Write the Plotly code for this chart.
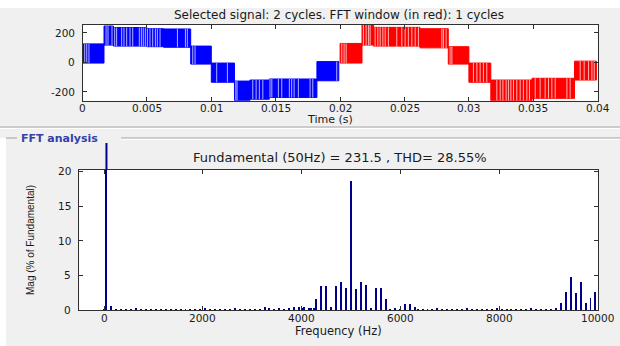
import plotly.graph_objects as go

W, H = 620, 346

# ---------------- time-domain signal: PWM blocks (start, end, low level, high level)
seg_start = [0.0, 0.00167, 0.0024, 0.0050, 0.0063, 0.0084, 0.0100, 0.0118, 0.0130, 0.0145, 0.0182,
             0.0200, 0.0217, 0.0226, 0.0262, 0.0284, 0.0300, 0.0317, 0.0349, 0.0382]
seg_end = [0.00167, 0.0024, 0.0050, 0.0063, 0.0084, 0.0100, 0.0118, 0.0130, 0.0145, 0.0182, 0.0199,
           0.0217, 0.0226, 0.0262, 0.0284, 0.0300, 0.0317, 0.0349, 0.0382, 0.0399]
seg_low = [-5, 117, 110, 106, 102, -12, -135, -258, -250, -238, -125,
           -5, 117, 110, 98, -12, -135, -260, -244, -120]
seg_high = [125, 246, 236, 228, 226, 110, -5, -127, -120, -113, 5,
            128, 253, 237, 228, 106, -5, -120, -108, 8]
fft_window = [0.02, 0.04]

# light switching stripes visible inside the blocks (s)
stripe_t = [0.00017, 0.00033, 0.0005,
            0.00183, 0.00198, 0.00229, 0.0025, 0.00265, 0.00304, 0.00322, 0.00343, 0.00369, 0.0039,
            0.00441, 0.00457, 0.00472, 0.00488, 0.00504, 0.00524, 0.00545, 0.00566, 0.00581, 0.00602,
            0.00737, 0.00799, 0.00814, 0.00856, 0.00874, 0.01042, 0.01125, 0.0119, 0.0120,
            0.01322, 0.01348, 0.01373, 0.014, 0.01456, 0.0147, 0.01521, 0.01547, 0.01606, 0.01624,
            0.01643, 0.01676, 0.01767, 0.01788, 0.01974,
            0.02013, 0.02031, 0.02047, 0.02181, 0.02202, 0.0222, 0.02233, 0.02272, 0.02293, 0.02311,
            0.02332, 0.0235, 0.02375, 0.0244, 0.02479, 0.02505, 0.0253, 0.02557, 0.02583, 0.02608,
            0.0279, 0.02802, 0.02823, 0.02854, 0.02868, 0.03035, 0.03062, 0.03087, 0.03113, 0.03139,
            0.03217, 0.03243, 0.03264, 0.03289, 0.03307, 0.03326, 0.03346, 0.03372, 0.03398, 0.03423,
            0.0345, 0.0347, 0.03515, 0.03553, 0.03592, 0.03618, 0.03644, 0.0367, 0.03761, 0.03786,
            0.03864, 0.03895, 0.03929, 0.03955, 0.03973]

time_ticks = [0, 0.005, 0.01, 0.015, 0.02, 0.025, 0.03, 0.035, 0.04]
time_labels = ["0", "0.005", "0.01", "0.015", "0.02", "0.025", "0.03", "0.035", "0.04"]
sig_ticks = [-200, 0, 200]
sig_labels = ["-200", "0", "200"]

# ---------------- FFT spectrum (% of fundamental)
harm_freq = [0, 50, 150, 250, 350, 450, 550, 650, 750, 850, 950, 1050, 1150, 1250, 1350, 1450,
             1550, 1650, 1750, 1850, 1950, 2050, 2150, 2250, 2350, 2450, 2550, 2650, 2750, 2850,
             2950, 3050, 3150, 3250, 3350, 3450, 3550, 3650, 3750, 3850, 3950, 4000, 4050, 4150,
             4200, 4250,
             4300, 4400, 4500, 4600, 4700, 4800, 4900, 5000, 5100, 5200, 5300, 5400, 5500, 5600,
             5700, 5800, 5900, 6000, 6100, 6200, 6300,
             6350, 6450, 6550, 6650, 6750, 6850, 6950, 7050, 7150, 7250, 7350, 7450, 7550, 7650,
             7750, 7850, 7950, 8050, 8150, 8250, 8350, 8450, 8550, 8650, 8750, 8850, 8950, 9050,
             9150, 9250, 9350, 9450, 9550, 9650, 9750, 9850, 9950]
harm_mag = [0.15, 100, 0.6, 0.2, 0.15, 0.2, 0.15, 0.3, 0.15, 0.1, 0.15, 0.2, 0.2, 0.2, 0.15, 0.2,
            0.1, 0.15, 0.2, 0.2, 0.15, 0.25, 0.2, 0.15, 0.2, 0.2, 0.15, 0.25, 0.2, 0.1,
            0.1, 0.1, 0.15, 0.5, 0.3, 0.2, 0.3, 0.15, 0.25, 0.5, 0.4, 0.3, 0.4, 0.3,
            0.3, 0.3,
            1.6, 3.4, 3.4, 0.4, 3.5, 4.1, 3.2, 18.6, 3.05, 4.1, 3.6, 0.3, 3.2, 3.2,
            1.6, 0.2, 0.3, 0.2, 0.8, 0.8, 0.5,
            0.2, 0.15, 0.2, 0.2, 0.25, 0.15, 0.2, 0.2, 0.15, 0.2, 0.25, 0.2, 0.15, 0.2,
            0.15, 0.2, 0.25, 0.15, 0.2, 0.15, 0.2, 0.15, 0.2, 0.25, 0.2, 0.15, 0.2, 0.15,
            0.25, 1.0, 2.6, 4.8, 2.4, 4.0, 1.0, 1.8, 2.6]
freq_ticks = [0, 2000, 4000, 6000, 8000, 10000]
freq_labels = ["0", "2000", "4000", "6000", "8000", "10000"]
mag_ticks = [0, 5, 10, 15, 20]
mag_labels = ["0", "5", "10", "15", "20"]

fundamental_hz = 50
fundamental_amp = 231.5
thd = 28.55

# ---------------- layout helpers
def px_x(x):
    return x / W

def px_y(y):
    return 1 - y / H

BLUE = "#0000ff"
RED = "#ff0000"
BAR = "#00008c"
FONT = "DejaVu Sans"
TXT = "#1a1a1a"

fig = go.Figure()

# signal blocks
for color, in_window in [(BLUE, False), (RED, True)]:
    xs, ys = [], []
    for t0, t1, lo, hi in zip(seg_start, seg_end, seg_low, seg_high):
        if (t0 >= fft_window[0]) != in_window:
            continue
        xs += [t0, t1, t1, t0, t0, None]
        ys += [lo, lo, hi, hi, lo, None]
    fig.add_trace(go.Scatter(x=xs, y=ys, mode="lines", fill="toself", fillcolor=color,
                             line=dict(color=color, width=1), xaxis="x", yaxis="y",
                             hoverinfo="skip", showlegend=False))

# stripes
for tint, in_window in [("rgba(235,235,255,0.75)", False), ("rgba(255,225,225,0.8)", True)]:
    xs, ys = [], []
    for t in stripe_t:
        if (t >= fft_window[0]) != in_window:
            continue
        for t0, t1, lo, hi in zip(seg_start, seg_end, seg_low, seg_high):
            if t0 <= t <= t1:
                xs += [t, t, None]
                ys += [lo, hi, None]
                break
    fig.add_trace(go.Scatter(x=xs, y=ys, mode="lines", line=dict(color=tint, width=1),
                             xaxis="x", yaxis="y", hoverinfo="skip", showlegend=False))

# spectrum
fig.add_trace(go.Bar(x=harm_freq, y=harm_mag, width=40, marker=dict(color=BAR, line=dict(width=0)),
                     xaxis="x2", yaxis="y2", showlegend=False, hoverinfo="skip"))

top_dom_x = [px_x(82.5), px_x(597.7)]
top_dom_y = [px_y(100.7), px_y(25)]
bot_dom_x = [px_x(79.3), px_x(597.9)]
bot_dom_y = [px_y(310), px_y(170)]

axis_common = dict(showline=True, mirror="ticks", linecolor="#303030", linewidth=1,
                   ticks="inside", ticklen=4, tickcolor="#303030", showgrid=False, zeroline=False,
                   fixedrange=True, showticklabels=False)

fig.update_layout(
    width=W, height=H, autosize=False, margin=dict(l=0, r=0, t=0, b=0),
    paper_bgcolor="#f0f0f0", plot_bgcolor="white", bargap=0, dragmode=False,
    xaxis=dict(domain=top_dom_x, range=[0, 0.04], tickvals=time_ticks, anchor="y", **axis_common),
    yaxis=dict(domain=top_dom_y, range=[-260, 253], tickvals=sig_ticks, anchor="x", **axis_common),
    xaxis2=dict(domain=bot_dom_x, range=[-500, 10000], tickvals=freq_ticks, anchor="y2", **axis_common),
    yaxis2=dict(domain=bot_dom_y, range=[0, 20.2], tickvals=mag_ticks, anchor="x2", **axis_common),
)

shapes = [
    dict(type="rect", xref="paper", yref="paper", x0=0, x1=1, y0=px_y(8), y1=1,
         fillcolor="white", line=dict(width=0), layer="below"),
    dict(type="line", xref="paper", yref="paper", x0=0, x1=1, y0=px_y(127), y1=px_y(127),
         line=dict(color="#a8a8a8", width=1)),
    dict(type="line", xref="paper", yref="paper", x0=0, x1=1, y0=px_y(128.5), y1=px_y(128.5),
         line=dict(color="#ffffff", width=1)),
    dict(type="rect", xref="paper", yref="paper", x0=0, x1=px_x(6), y0=0, y1=px_y(138),
         fillcolor="white", line=dict(width=0), layer="below"),
    dict(type="line", xref="paper", yref="paper", x0=px_x(6), x1=px_x(17), y0=px_y(138), y1=px_y(138),
         line=dict(color="#a0a0a0", width=1)),
    dict(type="line", xref="paper", yref="paper", x0=px_x(121), x1=1, y0=px_y(138), y1=px_y(138),
         line=dict(color="#a0a0a0", width=1)),
    dict(type="line", xref="paper", yref="paper", x0=px_x(121), x1=1, y0=px_y(139.3), y1=px_y(139.3),
         line=dict(color="#ffffff", width=1)),
    dict(type="line", xref="x2", yref="paper", x0=fundamental_hz, x1=fundamental_hz,
         y0=bot_dom_y[1], y1=px_y(143), line=dict(color=BAR, width=2)),
]
fig.update_layout(shapes=shapes)

tick_font = dict(family=FONT, size=10.5, color=TXT)
ann = []
for v, s in zip(time_ticks, time_labels):
    ann.append(dict(text=s, x=v, xref="x", y=px_y(108), yref="paper", xanchor="center",
                    yanchor="middle", font=tick_font))
for v, s in zip(freq_ticks, freq_labels):
    ann.append(dict(text=s, x=v, xref="x2", y=px_y(317.5), yref="paper", xanchor="center",
                    yanchor="middle", font=tick_font))
for v, s in zip(sig_ticks, sig_labels):
    ann.append(dict(text=s, x=px_x(77), xref="paper", y=v, yref="y", xanchor="right",
                    yanchor="middle", font=tick_font))
for v, s in zip(mag_ticks, mag_labels):
    ann.append(dict(text=s, x=px_x(73), xref="paper", y=v, yref="y2", xanchor="right",
                    yanchor="middle", font=tick_font))

ann += [
    dict(text="Selected signal: 2 cycles. FFT window (in red): 1 cycles", x=px_x(339), y=px_y(15),
         font=dict(family=FONT, size=12, color=TXT)),
    dict(text="Time (s)", x=px_x(330), y=px_y(119.5), font=dict(family=FONT, size=11, color=TXT)),
    dict(text="FFT analysis", x=px_x(19), y=px_y(138), xanchor="left",
         font=dict(family=FONT, size=11, color="#3342a8", weight="bold"), bgcolor="#f0f0f0"),
    dict(text=f"Fundamental ({fundamental_hz}Hz) = {fundamental_amp} , THD= {thd}%",
         x=px_x(340), y=px_y(158), font=dict(family=FONT, size=13, color=TXT)),
    dict(text="Mag (% of Fundamental)", x=px_x(30), y=px_y(240), textangle=-90,
         font=dict(family="Liberation Sans", size=10, color=TXT)),
    dict(text="Frequency (Hz)", x=px_x(338), y=px_y(331), font=dict(family=FONT, size=11.5, color=TXT)),
]
for a in ann:
    a.setdefault("xanchor", "center")
    a.setdefault("xref", "paper")
    a.setdefault("yref", "paper")
    a.setdefault("yanchor", "middle")
    a["showarrow"] = False
fig.update_layout(annotations=ann)

fig.write_html("out.html", config={"responsive": False, "staticPlot": True, "displayModeBar": False})
